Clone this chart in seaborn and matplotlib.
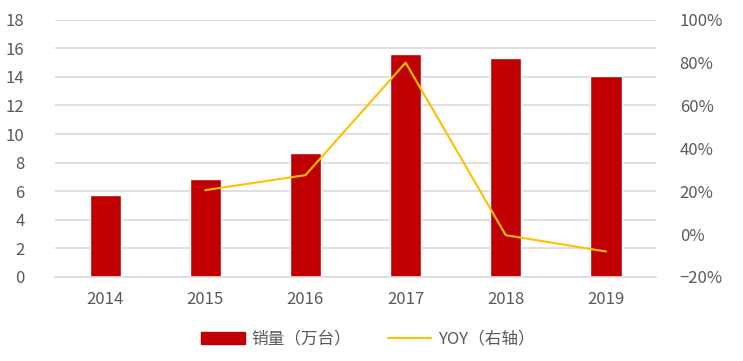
import numpy as np
import pandas as pd
import matplotlib
matplotlib.use('Agg')
import matplotlib.pyplot as plt
import seaborn as sns
from matplotlib.patches import Patch
from matplotlib.lines import Line2D
from matplotlib.ticker import PercentFormatter, FixedLocator

sns.set_theme(style='white')
plt.rcParams['font.family'] = ['Noto Sans CJK SC', 'DejaVu Sans']

# data
years = ['2014', '2015', '2016', '2017', '2018', '2019']
sales = [5.73, 6.85, 8.64, 15.57, 15.33, 14.08]       # 万台
yoy_years = ['2015', '2016', '2017', '2018', '2019']
yoy = [0.205, 0.275, 0.80, -0.005, -0.081]

bar_color = '#C00000'
line_color = '#FFC000'
text_color = '#595959'
grid_color = '#D9D9D9'

df_bar = pd.DataFrame({'year': years, 'sales': sales})
df_line = pd.DataFrame({'pos': [years.index(y) for y in yoy_years], 'yoy': yoy})

fig = plt.figure(figsize=(7.43, 3.61), dpi=100)
ax = fig.add_axes([0.074, 0.2327, 0.809, 0.7127])

sns.barplot(data=df_bar, x='year', y='sales', color=bar_color,
            width=0.31, saturation=1, ax=ax, zorder=2)
ax.set_ylim(0, 18)
ax.set_yticks(np.arange(0, 19, 2))
ax.set_xlim(-0.5, len(years) - 0.5)
ax.yaxis.grid(True, color=grid_color, linewidth=1.2, zorder=0)
ax.set_axisbelow(True)
ax.set(xlabel='', ylabel='')
for s in ['top', 'left', 'right']:
    ax.spines[s].set_visible(False)
ax.spines['bottom'].set_color(grid_color)
ax.spines['bottom'].set_linewidth(1.2)
ax.tick_params(axis='y', length=0, labelsize=12, labelcolor=text_color, pad=22)
ax.tick_params(axis='x', which='major', length=0, labelsize=12,
               labelcolor=text_color, pad=10)
ax.xaxis.set_minor_locator(FixedLocator(np.arange(-0.5, len(years), 1.0)))
ax.tick_params(axis='x', which='minor', length=5, width=1.2, color=grid_color)

ax2 = ax.twinx()
sns.lineplot(data=df_line, x='pos', y='yoy', color=line_color,
             linewidth=1.5, ax=ax2)
ax2.set_ylim(-0.2, 1.0)
ax2.set_yticks(np.arange(-0.2, 1.01, 0.2))
ax2.yaxis.set_major_formatter(PercentFormatter(1.0, decimals=0))
ax2.set(xlabel='', ylabel='')
ax2.set_xlim(-0.5, len(years) - 0.5)
for s in ['top', 'left', 'right', 'bottom']:
    ax2.spines[s].set_visible(False)
ax2.tick_params(axis='y', length=0, labelsize=12, labelcolor=text_color, pad=17)

handles = [Patch(facecolor=bar_color, edgecolor=bar_color),
           Line2D([], [], color=line_color, linewidth=1.5)]
fig.legend(handles, ['销量（万台）', 'YOY（右轴）'], loc='center',
           bbox_to_anchor=(0.495, 0.06), ncol=2, frameon=False,
           fontsize=12, labelcolor=text_color, handlelength=2.6,
           handleheight=0.8, columnspacing=2.2, handletextpad=0.4)

fig.savefig('out.png', dpi=100)
